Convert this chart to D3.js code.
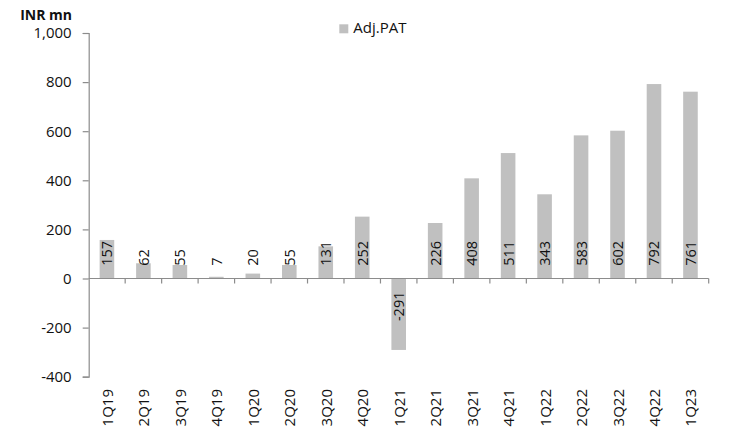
<!DOCTYPE html>
<html>
<head>
<meta charset="utf-8">
<script src="https://cdn.jsdelivr.net/npm/d3@7"></script>
<style>
  html, body { margin: 0; padding: 0; background: #fff; }
  svg { display: block; font-family: "Open Sans", "Liberation Sans", sans-serif; }
</style>
</head>
<body>
<svg id="chart" width="732" height="435"></svg>
<script>
// Quarterly adjusted PAT (INR mn)
const quarters = ["1Q19","2Q19","3Q19","4Q19","1Q20","2Q20","3Q20","4Q20","1Q21","2Q21","3Q21","4Q21","1Q22","2Q22","3Q22","4Q22","1Q23"];
const adjPat = [157, 62, 55, 7, 20, 55, 131, 252, -291, 226, 408, 511, 343, 583, 602, 792, 761];
const yTicks = [-400, -200, 0, 200, 400, 600, 800, 1000];
const seriesName = "Adj.PAT";
const unitLabel = "INR mn";

const svg = d3.select("#chart");
const barColor = "#c0c0c0";
const axisColor = "#8c8c8c";
const textColor = "#111";

const plot = { left: 88.7, right: 708.7, top: 33, bottom: 376.7 };

const x = d3.scaleBand().domain(quarters).range([plot.left, plot.right]).padding(0);
const y = d3.scaleLinear().domain([-400, 1000]).range([plot.bottom, plot.top]);
const y0 = y(0);
const bw = x.bandwidth() * 0.4;

// Thousands separator with a plain hyphen for negatives
const fmt = d3.formatLocale({ decimal: ".", thousands: ",", grouping: [3], currency: ["", ""], minus: "-" }).format(",");

// Y axis
const yAxis = svg.append("g")
  .attr("transform", `translate(${plot.left},0)`)
  .call(d3.axisLeft(y).tickValues(yTicks).tickSize(6).tickPadding(11).tickFormat(fmt));
yAxis.select(".domain").attr("stroke", axisColor).attr("stroke-width", 1.2);
yAxis.selectAll(".tick line").attr("stroke", axisColor).attr("stroke-width", 1.2);
yAxis.selectAll(".tick text")
  .attr("fill", textColor)
  .style("font-size", "15px")
  .style("font-family", "'Open Sans', sans-serif");

// Unit label
svg.append("text")
  .attr("x", 72).attr("y", 20)
  .attr("text-anchor", "end")
  .attr("fill", textColor)
  .style("font-size", "14px")
  .style("font-weight", "bold")
  .text(unitLabel);

// Bars
svg.append("g").selectAll("rect")
  .data(adjPat)
  .join("rect")
  .attr("x", (d, i) => x(quarters[i]) + (x.bandwidth() - bw) / 2)
  .attr("width", bw)
  .attr("y", d => Math.min(y(d), y0))
  .attr("height", d => Math.abs(y(d) - y0))
  .attr("fill", barColor);

// Zero line with ticks between categories
svg.append("line")
  .attr("x1", plot.left).attr("x2", plot.right)
  .attr("y1", y0).attr("y2", y0)
  .attr("stroke", axisColor).attr("stroke-width", 1.2);
const boundaries = quarters.map(q => x(q)).concat([plot.right]).slice(1);
svg.append("g").selectAll("line")
  .data(boundaries)
  .join("line")
  .attr("x1", d => d).attr("x2", d => d)
  .attr("y1", y0).attr("y2", y0 + 5)
  .attr("stroke", axisColor).attr("stroke-width", 1.2);

// Value labels at the bar base
svg.append("g").selectAll("text")
  .data(adjPat)
  .join("text")
  .attr("transform", (d, i) => {
    const cx = x(quarters[i]) + x.bandwidth() / 2;
    const ty = d >= 0 ? y0 - 12.7 : y0 + 13;
    return `translate(${cx},${ty}) rotate(-90)`;
  })
  .attr("text-anchor", d => d >= 0 ? "start" : "end")
  .attr("dominant-baseline", "central")
  .attr("fill", textColor)
  .style("font-size", "14.5px")
  .text(d => d);

// Category labels
svg.append("g").selectAll("text")
  .data(quarters)
  .join("text")
  .attr("transform", q => `translate(${x(q) + x.bandwidth() / 2},389) rotate(-90)`)
  .attr("text-anchor", "end")
  .attr("dominant-baseline", "central")
  .attr("fill", textColor)
  .style("font-size", "15px")
  .text(q => q);

// Legend
svg.append("rect")
  .attr("x", 339.3).attr("y", 24.3)
  .attr("width", 9).attr("height", 9)
  .attr("fill", barColor);
svg.append("text")
  .attr("x", 353.3).attr("y", 33.3)
  .attr("fill", textColor)
  .style("font-size", "15px")
  .text(seriesName);
</script>
</body>
</html>
